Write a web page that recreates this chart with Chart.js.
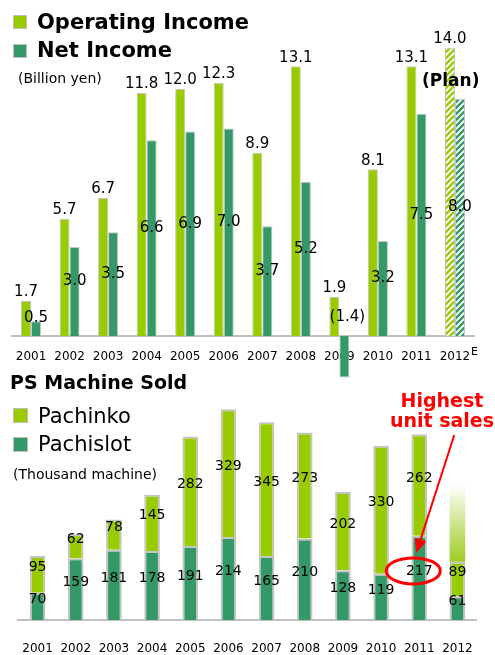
<!DOCTYPE html>
<html>
<head>
<meta charset="utf-8">
<script src="https://cdn.jsdelivr.net/npm/chart.js@4.4.1/dist/chart.umd.min.js"></script>
<style>
    body { margin: 0; background: #fff; }
    #wrap { position: relative; width: 495px; height: 655px; overflow: hidden; font-family: 'DejaVu Sans', sans-serif; color: #000; }
    canvas { position: absolute; left: 0; }
    .t { position: absolute; white-space: nowrap; }
    .b { font-weight: bold; }
    .sq { position: absolute; box-sizing: border-box; border: 1px solid #bdbdbd; }
</style>
</head>
<body>
<div id="wrap">
    <canvas id="incomeChart" width="495" height="380" style="top:0"></canvas>
    <canvas id="salesChart" width="495" height="285" style="top:370px"></canvas>

    <div class="sq" style="left:13px;top:15px;width:14px;height:14px;background:#99cc00"></div>
    <div class="t b" style="left:37px;top:9px;font-size:21px;line-height:26px">Operating Income</div>
    <div class="sq" style="left:13px;top:44px;width:14px;height:14px;background:#339966"></div>
    <div class="t b" style="left:37px;top:37px;font-size:21px;line-height:26px">Net Income</div>
    <div class="t" style="left:18px;top:70px;font-size:14px;line-height:17px">(Billion yen)</div>
    <div class="t b" style="left:422px;top:70px;font-size:17px;line-height:20px">(Plan)</div>

    <div class="t b" style="left:10px;top:371px;font-size:19px;line-height:23px">PS Machine Sold</div>
    <div class="sq" style="left:13px;top:408px;width:15px;height:15px;background:#99cc00"></div>
    <div class="t" style="left:38px;top:404px;font-size:21px;line-height:25px">Pachinko</div>
    <div class="sq" style="left:13px;top:437px;width:15px;height:15px;background:#339966"></div>
    <div class="t" style="left:38px;top:432px;font-size:21px;line-height:25px">Pachislot</div>
    <div class="t" style="left:13px;top:466px;font-size:14px;line-height:17px">(Thousand machine)</div>
    <div class="t b" style="left:382px;top:390px;width:120px;text-align:center;font-size:19px;line-height:20px;color:#ff0000">Highest<br>unit sales</div>
</div>
<script>
const years = ['2001', '2002', '2003', '2004', '2005', '2006', '2007', '2008', '2009', '2010', '2011', '2012'];
const operatingIncome = [1.7, 5.7, 6.7, 11.8, 12.0, 12.3, 8.9, 13.1, 1.9, 8.1, 13.1, 14.0];
const netIncome = [0.5, 3.0, 3.5, 6.6, 6.9, 7.0, 3.7, 5.2, -1.4, 3.2, 7.5, 8.0];
const isPlan = [false, false, false, false, false, false, false, false, false, false, false, true];
const estimateMark = 'E';

const pachislot = [70, 159, 181, 178, 191, 214, 165, 210, 128, 119, 217, 61];
const pachinko = [95, 62, 78, 145, 282, 329, 345, 273, 202, 330, 262, 89];
// 2012 full-year outlook drawn as a fading extension above the bar
const pachinkoOutlook = [null, null, null, null, null, null, null, null, null, null, null, 200];

const lightGreen = '#99cc00';
const darkGreen = '#339966';
const edge = '#c4c4c4';

Chart.defaults.font.family = "'DejaVu Sans', sans-serif";
Chart.defaults.color = '#000';

// diagonal white stripes for plan bars
function stripes(ctx, color) {
    const tile = document.createElement('canvas');
    tile.width = 6;
    tile.height = 6;
    const g = tile.getContext('2d');
    g.fillStyle = '#fff';
    g.fillRect(0, 0, 6, 6);
    g.strokeStyle = color;
    g.lineWidth = 2.4;
    g.beginPath();
    g.moveTo(-1, 7); g.lineTo(7, -1);
    g.moveTo(-4, 4); g.lineTo(4, -4);
    g.moveTo(2, 10); g.lineTo(10, 2);
    g.stroke();
    return ctx.createPattern(tile, 'repeat');
}

const incomeLabels = {
    id: 'incomeLabels',
    afterDatasetsDraw(chart) {
        const ctx = chart.ctx;
        const base = chart.scales.y.getPixelForValue(0);
        ctx.save();
        ctx.font = "15px 'DejaVu Sans'";
        ctx.fillStyle = '#000';
        ctx.textAlign = 'center';
        ctx.textBaseline = 'bottom';
        chart.getDatasetMeta(0).data.forEach((bar, i) => {
            ctx.fillText(operatingIncome[i].toFixed(1), bar.x, bar.y - 1);
        });
        ctx.textBaseline = 'middle';
        chart.getDatasetMeta(1).data.forEach((bar, i) => {
            const v = netIncome[i];
            if (v < 0) {
                ctx.fillText('(' + Math.abs(v).toFixed(1) + ')', bar.x + 3, base - 19);
            } else {
                ctx.fillText(v.toFixed(1), bar.x, (bar.y + base) / 2 - 10);
            }
        });
        // superscript E on the plan year
        const xs = chart.scales.x;
        ctx.font = "11px 'DejaVu Sans'";
        ctx.textAlign = 'left';
        isPlan.forEach((p, i) => {
            if (p) ctx.fillText(estimateMark, xs.getPixelForTick(i) + 16, xs.top + 16);
        });
        ctx.restore();
    }
};

const ctxIncome = document.getElementById('incomeChart').getContext('2d');
const oiStripes = stripes(ctxIncome, lightGreen);
const niStripes = stripes(ctxIncome, darkGreen);

const incomeChart = new Chart(ctxIncome, {
    type: 'bar',
    data: {
        labels: years,
        datasets: [{
            label: 'Operating Income',
            data: operatingIncome,
            yAxisID: 'y',
            backgroundColor: c => isPlan[c.dataIndex] ? oiStripes : lightGreen,
            borderColor: edge,
            borderWidth: 1,
            categoryPercentage: 0.52,
            barPercentage: 1
        }, {
            label: 'Net Income',
            data: netIncome,
            yAxisID: 'y2',
            clip: false,
            backgroundColor: c => isPlan[c.dataIndex] ? niStripes : darkGreen,
            borderColor: edge,
            borderWidth: 1,
            categoryPercentage: 0.52,
            barPercentage: 1
        }]
    },
    options: {
        responsive: false,
        animation: false,
        devicePixelRatio: 1,
        layout: { padding: { left: 11.75, right: 20.75, top: 39.5, bottom: 0 } },
        plugins: {
            legend: { display: false },
            tooltip: { enabled: false }
        },
        scales: {
            x: {
                grid: { display: false, drawTicks: false },
                border: { color: '#c0c0c0', width: 2 },
                ticks: { color: '#000', font: { size: 12 }, padding: 14, autoSkip: false, maxRotation: 0 },
                afterFit(scale) { scale.height = 44; }
            },
            y: { display: false, min: 0, max: 14.4 },
            y2: { display: false, min: 0, max: 10, position: 'right' }
        }
    },
    plugins: [incomeLabels]
});

const salesLabels = {
    id: 'salesLabels',
    afterDatasetsDraw(chart) {
        const ctx = chart.ctx;
        ctx.save();
        ctx.font = "14px 'DejaVu Sans'";
        ctx.fillStyle = '#000';
        ctx.textAlign = 'center';
        ctx.textBaseline = 'middle';
        [pachislot, pachinko].forEach((vals, d) => {
            chart.getDatasetMeta(d).data.forEach((bar, i) => {
                ctx.fillText(String(vals[i]), bar.x, (bar.y + bar.base) / 2 - 7);
            });
        });

        // ring the best pachislot year and point at it
        const hi = pachislot.indexOf(Math.max(...pachislot));
        const bar = chart.getDatasetMeta(0).data[hi];
        const ly = (bar.y + bar.base) / 2 - 7;
        ctx.strokeStyle = '#ff0000';
        ctx.fillStyle = '#ff0000';
        ctx.lineWidth = 3;
        ctx.beginPath();
        ctx.ellipse(bar.x - 6, ly, 27, 13, 0, 0, Math.PI * 2);
        ctx.stroke();

        const x0 = bar.x + 35, y0 = 65;
        const x1 = bar.x - 3, y1 = ly - 18;
        const a = Math.atan2(y1 - y0, x1 - x0);
        ctx.lineWidth = 2;
        ctx.beginPath();
        ctx.moveTo(x0, y0);
        ctx.lineTo(x1 - 10 * Math.cos(a), y1 - 10 * Math.sin(a));
        ctx.stroke();
        ctx.beginPath();
        ctx.moveTo(x1, y1);
        ctx.lineTo(x1 - 14 * Math.cos(a) + 6 * Math.sin(a), y1 - 14 * Math.sin(a) - 6 * Math.cos(a));
        ctx.lineTo(x1 - 14 * Math.cos(a) - 6 * Math.sin(a), y1 - 14 * Math.sin(a) + 6 * Math.cos(a));
        ctx.closePath();
        ctx.fill();
        ctx.restore();
    }
};

const ctxSales = document.getElementById('salesChart').getContext('2d');
const salesChart = new Chart(ctxSales, {
    type: 'bar',
    data: {
        labels: years,
        datasets: [{
            label: 'Pachislot',
            data: pachislot,
            backgroundColor: darkGreen,
            borderColor: edge,
            borderWidth: 2,
            categoryPercentage: 1,
            barPercentage: 0.41
        }, {
            label: 'Pachinko',
            data: pachinko,
            backgroundColor: lightGreen,
            borderColor: edge,
            borderWidth: 2,
            categoryPercentage: 1,
            barPercentage: 0.41
        }, {
            label: 'Pachinko outlook',
            data: pachinkoOutlook,
            borderWidth: 0,
            categoryPercentage: 1,
            barPercentage: 0.41,
            backgroundColor(c) {
                const chart = c.chart;
                if (!chart.chartArea) return lightGreen;
                const i = c.dataIndex;
                const y = chart.scales.y;
                const start = pachislot[i] + pachinko[i];
                const g = chart.ctx.createLinearGradient(0, y.getPixelForValue(start), 0, y.getPixelForValue(start + (pachinkoOutlook[i] || 0)));
                g.addColorStop(0, '#9fcb22');
                g.addColorStop(1, '#ffffff');
                return g;
            }
        }]
    },
    options: {
        responsive: false,
        animation: false,
        devicePixelRatio: 1,
        layout: { padding: { left: 11.45, right: 14.4, top: 10, bottom: 0 } },
        plugins: {
            legend: { display: false },
            tooltip: { enabled: false }
        },
        scales: {
            x: {
                stacked: true,
                grid: { display: false, drawTicks: false },
                border: { color: '#c0c0c0', width: 2 },
                ticks: { color: '#000', font: { size: 12 }, padding: 22, autoSkip: false, maxRotation: 0 },
                afterFit(scale) { scale.height = 35; }
            },
            y: { display: false, stacked: true, min: 0, max: 618.6 }
        }
    },
    plugins: [salesLabels]
});
</script>
</body>
</html>
